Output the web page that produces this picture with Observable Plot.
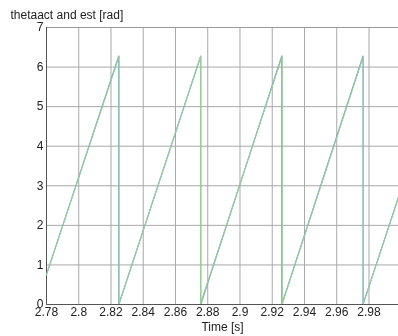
<!DOCTYPE html>
<html>
<head>
<meta charset="utf-8">
<script src="https://cdn.jsdelivr.net/npm/d3@7"></script>
<script src="https://cdn.jsdelivr.net/npm/@observablehq/plot@0.6"></script>
<style>
  html, body { margin: 0; padding: 0; background: #fff; }
  #chart svg { display: block; }
</style>
</head>
<body>
<div id="chart"></div>
<script>
// Rotor angle: actual vs. estimated (sawtooth wrapping at 2π)
const timeAct  = [2.78, 2.8248, 2.8248, 2.8757, 2.8757, 2.9259, 2.9259, 2.9763, 2.9763, 2.9983];
const thetaAct = [0.76, 6.28,   0,      6.28,   0,      6.28,   0,      6.28,   0,      2.72];

const timeEst  = [2.78, 2.8250, 2.8250, 2.8755, 2.8755, 2.9262, 2.9262, 2.9765, 2.9765, 2.9983];
const thetaEst = [0.75, 6.27,   0.01,   6.27,   0.02,   6.28,   0.02,   6.27,   0.03,   2.70];

const xTicks = [2.78, 2.8, 2.82, 2.84, 2.86, 2.88, 2.9, 2.92, 2.94, 2.96, 2.98];
const xTickLabels = ["2.78", "2.8", "2.82", "2.84", "2.86", "2.88", "2.9", "2.92", "2.94", "2.96", "2.98"];
const yTicks = [0, 1, 2, 3, 4, 5, 6, 7];

const titleText = "thetaact and est [rad]";
const xLabelText = "Time [s]";

const actual = timeAct.map((t, i) => ({t, v: thetaAct[i]}));
const estimate = timeEst.map((t, i) => ({t, v: thetaEst[i]}));

const chart = Plot.plot({
  width: 398,
  height: 336,
  marginLeft: 46,
  marginRight: 0,
  marginTop: 27,
  marginBottom: 32,
  style: {fontFamily: "'Liberation Sans', Arial, sans-serif", fontSize: "12px", color: "#222", background: "#fff"},
  x: {domain: [2.78, 2.9983], label: null},
  y: {domain: [0, 7], label: null},
  marks: [
    Plot.gridX(xTicks, {stroke: "#a8a8a8", strokeOpacity: 1}),
    Plot.gridY(yTicks, {stroke: "#a8a8a8", strokeOpacity: 1}),
    Plot.frame({stroke: "#999"}),
    Plot.ruleX([2.78], {stroke: "#555"}),
    Plot.ruleY([0], {stroke: "#555"}),
    Plot.axisX(xTicks, {
      tickSize: 0, tickPadding: 3, label: null,
      tickFormat: (d, i) => xTickLabels[i], fill: "#222"
    }),
    Plot.axisY(yTicks, {tickSize: 0, tickPadding: 3, label: null, fill: "#222"}),
    Plot.line(actual, {x: "t", y: "v", stroke: "#6a9fcc", strokeWidth: 1.1, clip: true, mixBlendMode: "multiply"}),
    Plot.line(estimate, {x: "t", y: "v", stroke: "#98cc98", strokeWidth: 1.1, clip: true, mixBlendMode: "multiply"}),
    Plot.text([titleText], {text: d => d, frameAnchor: "top-left", dx: -36, dy: -12, lineAnchor: "middle", textAnchor: "start", fill: "#222"}),
    Plot.text([xLabelText], {text: d => d, frameAnchor: "bottom", dy: 23, lineAnchor: "middle", fill: "#222"})
  ]
});

document.getElementById("chart").append(chart);
</script>
</body>
</html>
